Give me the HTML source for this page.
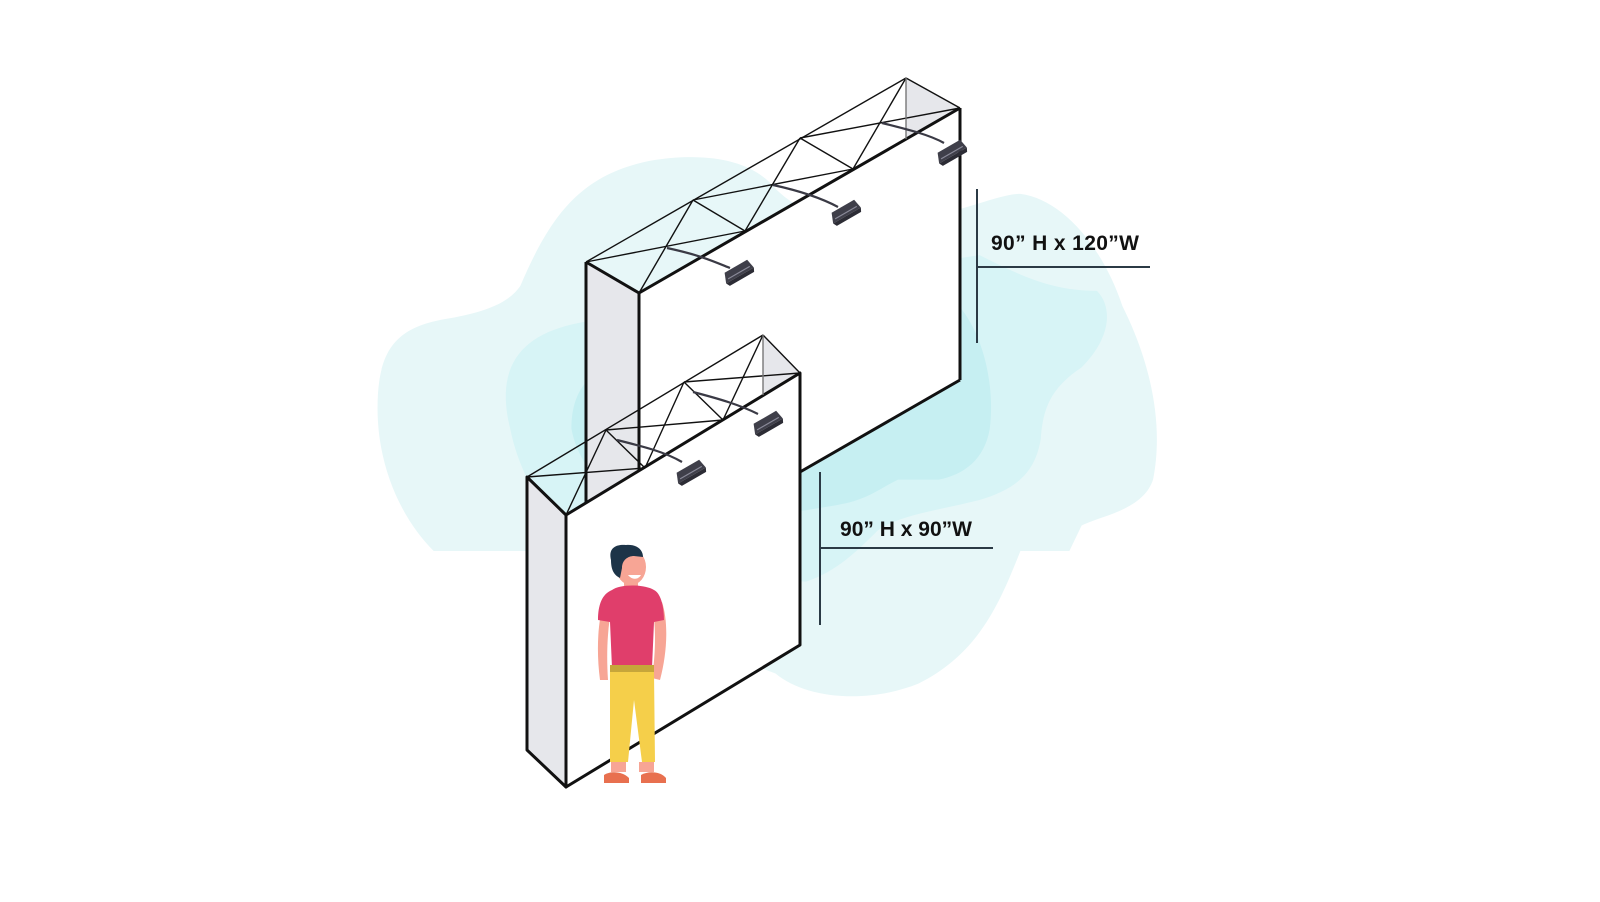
<!DOCTYPE html>
<html><head><meta charset="utf-8"><style>
html,body{margin:0;padding:0;background:#fff;width:1600px;height:902px;overflow:hidden}
svg{display:block}
</style></head><body>
<svg width="1600" height="902" viewBox="0 0 1600 902" xmlns="http://www.w3.org/2000/svg">
<defs>
<g id="lt"><path d="M-16,4 L-12,-6 L14,-6 L16,4 Z" fill="#3f3f4a"/><path d="M-16,4 L16,4 L14,8 L-14,8 Z" fill="#2c2c35"/><line x1="-12" y1="1" x2="13" y2="1" stroke="#8a8a99" stroke-width="1.2"/></g>
</defs>
<g transform="scale(1.0204)">
<path fill="#e7f7f8" d="M425,540 C395,510 370,460 370,400 C370,340 390,320 440,312 C480,305 500,295 510,280 C540,210 570,170 640,157 C700,148 740,160 760,185 C790,215 840,225 900,215 C950,205 980,190 1000,190 C1040,195 1080,240 1100,300 C1130,360 1140,420 1130,470 C1120,500 1080,505 1060,515 L1048,540 L1000,540 C980,590 960,640 900,670 C850,690 790,685 760,660 L600,600 L540,540 Z"/>
<path fill="#d7f4f6" d="M500,420 C485,360 510,330 560,318 C600,310 640,300 700,290 L960,250 C1000,270 1030,285 1075,285 C1090,300 1090,330 1060,360 C1030,380 1022,400 1020,430 C1015,460 1000,478 960,490 C920,500 880,505 860,520 C840,540 820,560 790,570 L600,560 C540,520 510,470 500,420 Z"/>
<path fill="#c6eff2" d="M560,420 C560,380 580,360 620,350 L940,300 C965,330 975,380 970,420 C965,450 945,465 920,470 L880,470 C860,480 850,490 820,495 L790,500 L620,520 C590,480 565,450 560,420 Z"/>
</g>

<!-- Big wall -->
<polygon points="586,262 639,293 639,560 586,530" fill="#e6e7eb"/>
<polygon points="639,293 960,108 960,380 639,565" fill="#fff"/>
<polygon points="906,78 960,108 906,139" fill="#e6e7eb"/>
<g stroke="#111" fill="none">
<line x1="586" y1="262" x2="586" y2="530" stroke-width="3"/>
<line x1="639" y1="293" x2="639" y2="530" stroke-width="3"/>
<line x1="960" y1="108" x2="960" y2="380" stroke-width="3"/>
<line x1="960" y1="380" x2="800" y2="472" stroke-width="3"/>
<line x1="639" y1="293" x2="960" y2="108" stroke-width="3"/>
<line x1="586" y1="262" x2="639" y2="293" stroke-width="3"/>
<g stroke-width="1.4">
<line x1="586" y1="262" x2="906" y2="78"/>
<line x1="586" y1="262" x2="745" y2="231"/>
<line x1="693" y1="200" x2="853" y2="169"/>
<line x1="800" y1="138" x2="960" y2="108"/>
<line x1="693" y1="200" x2="639" y2="293"/>
<line x1="693" y1="200" x2="745" y2="231"/>
<line x1="800" y1="138" x2="745" y2="231"/>
<line x1="800" y1="138" x2="853" y2="169"/>
<line x1="906" y1="78" x2="853" y2="169"/>
<line x1="906" y1="78" x2="960" y2="108"/>
<line x1="906" y1="78" x2="906" y2="139" stroke="#777"/>
</g>
<g stroke="#3a3a45" stroke-width="2.2">
<path d="M667,248 C700,255 715,262 730,268"/>
<path d="M773,185 C805,192 825,200 838,207"/>
<path d="M882,123 C910,130 930,135 944,143"/>
</g>
</g>
<use href="#lt" transform="translate(738,272) rotate(-30)"/>
<use href="#lt" transform="translate(845,212) rotate(-30)"/>
<use href="#lt" transform="translate(951,152) rotate(-30)"/>

<!-- Small wall -->
<polygon points="527,477 566,515 566,787 527,750" fill="#e6e7eb"/>
<polygon points="566,515 800,373 800,645 566,787" fill="#fff"/>
<polygon points="763,335 800,373 763,395" fill="#e6e7eb"/>
<g stroke="#111" fill="none">
<polygon points="527,477 566,515 566,787 527,750" stroke-width="3" stroke-linejoin="round"/>
<polygon points="566,515 800,373 800,645 566,787" stroke-width="3" stroke-linejoin="round"/>
<g stroke-width="1.4">
<line x1="527" y1="477" x2="763" y2="335"/>
<line x1="527" y1="477" x2="645" y2="468"/>
<line x1="606" y1="430" x2="723" y2="420"/>
<line x1="684" y1="382" x2="800" y2="373"/>
<line x1="606" y1="430" x2="566" y2="515"/>
<line x1="606" y1="430" x2="645" y2="468"/>
<line x1="684" y1="382" x2="645" y2="468"/>
<line x1="684" y1="382" x2="723" y2="420"/>
<line x1="763" y1="335" x2="723" y2="420"/>
<line x1="763" y1="335" x2="800" y2="373"/>
<line x1="763" y1="335" x2="763" y2="395" stroke="#777"/>
</g>
<g stroke="#3a3a45" stroke-width="2.2">
<path d="M617,440 C645,447 665,452 682,462"/>
<path d="M693,392 C720,399 740,405 758,414"/>
</g>
</g>
<use href="#lt" transform="translate(690,472) rotate(-30)"/>
<use href="#lt" transform="translate(767,423) rotate(-30)"/>

<!-- Dimension lines -->
<g stroke="#2b3a45" stroke-width="2">
<line x1="977" y1="189" x2="977" y2="343"/>
<line x1="977" y1="267" x2="1150" y2="267"/>
<line x1="820" y1="472" x2="820" y2="625"/>
<line x1="820" y1="548" x2="993" y2="548"/>
</g>
<g font-family="'Liberation Sans', sans-serif" font-weight="bold" font-size="21" fill="#111">
<text x="991" y="250" textLength="148">90” H x 120”W</text>
<text x="840" y="536" textLength="132">90” H x 90”W</text>
</g>

<!-- Person -->
<g>
<path d="M604,602 C598,620 596,650 600,680 L608,680 C606,650 608,625 612,605 Z" fill="#f7a595"/>
<path d="M662,602 C668,620 668,650 660,680 L652,678 C656,650 656,625 652,605 Z" fill="#f7a595"/>
<rect x="624" y="575" width="14" height="14" fill="#f7a595"/>
<path d="M612,590 C620,584 644,584 654,590 C662,594 664,610 664,620 L654,622 L652,668 L612,668 L610,622 L598,620 C598,605 602,594 612,590 Z" fill="#e03e6b"/>
<rect x="610" y="665" width="44" height="8" fill="#c6a63a"/>
<path d="M610,672 L654,672 L655,762 L642,762 L634,700 L628,762 L610,762 Z" fill="#f5cf4a"/>
<rect x="611" y="762" width="15" height="10" fill="#f7a595"/>
<rect x="639" y="762" width="15" height="10" fill="#f7a595"/>
<path d="M604,783 L604,775 C610,771 622,771 629,778 L629,783 Z" fill="#e8704f"/>
<path d="M641,783 L641,775 C648,771 660,771 666,778 L666,783 Z" fill="#e8704f"/>
<ellipse cx="631" cy="567" rx="15" ry="18" fill="#f7a595"/>
<path d="M611,560 C608,548 616,544 626,545 C636,544 643,549 643,557 L634,556 C628,556 622,560 622,568 L620,578 C614,575 611,570 611,560 Z" fill="#1d3448"/>
<path d="M628,575 C632,580 638,580 641,575 Z" fill="#fff"/>
</g>
</svg>
</body></html>
